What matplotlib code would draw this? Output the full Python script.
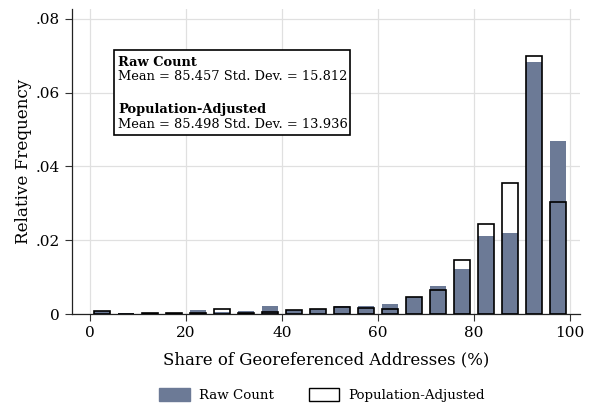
import matplotlib
matplotlib.use("Agg")
import matplotlib.pyplot as plt
from matplotlib.patches import Patch, Rectangle
import numpy as np

plt.rcParams['font.family'] = ['DejaVu Serif']

# Histogram bins: 5-point bins of the share of georeferenced addresses
bin_centers = [2.5, 7.5, 12.5, 17.5, 22.5, 27.5, 32.5, 37.5, 42.5, 47.5,
               52.5, 57.5, 62.5, 67.5, 72.5, 77.5, 82.5, 87.5, 92.5, 97.5]
raw_count = [0.0007, 0.0004, 0.0002, 0.0002, 0.0011, 0.0006, 0.0008, 0.0022, 0.0010, 0.0014,
             0.0021, 0.0021, 0.0028, 0.0045, 0.0076, 0.0123, 0.0212, 0.0220, 0.0682, 0.0469]
pop_adjusted = [0.0008, 0.0001, 0.0003, 0.0003, 0.0002, 0.0014, 0.0002, 0.0005, 0.0010, 0.0014,
                0.0020, 0.0015, 0.0014, 0.0045, 0.0066, 0.0146, 0.0245, 0.0355, 0.0700, 0.0303]

x_ticks = [0, 20, 40, 60, 80, 100]
y_ticks = [0, 0.02, 0.04, 0.06, 0.08]
y_tick_labels = ["0", ".02", ".04", ".06", ".08"]

raw_stats = "Mean = 85.457 Std. Dev. = 15.812"
adj_stats = "Mean = 85.498 Std. Dev. = 13.936"

W, H = 593, 408
fig = plt.figure(figsize=(W / 100, H / 100), dpi=100)
ax = fig.add_axes([72 / W, 1 - 314 / H, (580 - 72) / W, (314 - 9) / H])

raw_color = "#6c7a96"
bar_w = 3.2
ax.bar(bin_centers, raw_count, width=bar_w, color=raw_color, zorder=2)
ax.bar(bin_centers, pop_adjusted, width=bar_w, facecolor="none",
       edgecolor="black", linewidth=1.2, zorder=3)

ax.set_xlim(-3.75, 102.1)
ax.set_ylim(0, 0.0827)
ax.set_xticks(x_ticks)
ax.set_yticks(y_ticks)
ax.set_yticklabels(y_tick_labels)
ax.tick_params(axis="both", labelsize=11, length=5, width=0.8, color="#333333")
ax.grid(True, color="#e0e0e0", linewidth=0.9, zorder=0)
ax.set_axisbelow(True)
for side in ["top", "right"]:
    ax.spines[side].set_visible(False)
for side in ["left", "bottom"]:
    ax.spines[side].set_color("#222222")
    ax.spines[side].set_linewidth(0.9)

ax.set_xlabel("Share of Georeferenced Addresses (%)", fontsize=11.9, labelpad=8)
ax.set_ylabel("Relative Frequency", fontsize=12.1, labelpad=3)

# Summary statistics box
fig.patches.append(Rectangle((114 / W, 1 - 135 / H), (350 - 114) / W, (135 - 50) / H,
                             transform=fig.transFigure, facecolor="white",
                             edgecolor="black", linewidth=1.2, zorder=5))
tx = 118 / W
fs_box = 9.4
fig.text(tx, 1 - 63 / H, "Raw Count", fontsize=fs_box, fontweight="bold", va="center", zorder=6)
fig.text(tx, 1 - 77 / H, raw_stats, fontsize=fs_box, va="center", zorder=6)
fig.text(tx, 1 - 109 / H, "Population-Adjusted", fontsize=fs_box, fontweight="bold", va="center", zorder=6)
fig.text(tx, 1 - 124 / H, adj_stats, fontsize=fs_box, va="center", zorder=6)

handles = [Patch(facecolor=raw_color, edgecolor=raw_color, label="Raw Count"),
           Patch(facecolor="white", edgecolor="black", linewidth=1.0, label="Population-Adjusted")]
fig.legend(handles=handles, loc="center", bbox_to_anchor=(322 / W, 1 - 395 / H), ncol=2,
           frameon=False, fontsize=9.6, handlelength=2.3, handleheight=1.1,
           columnspacing=2.6, handletextpad=0.7)

fig.savefig("out.png", dpi=100)
